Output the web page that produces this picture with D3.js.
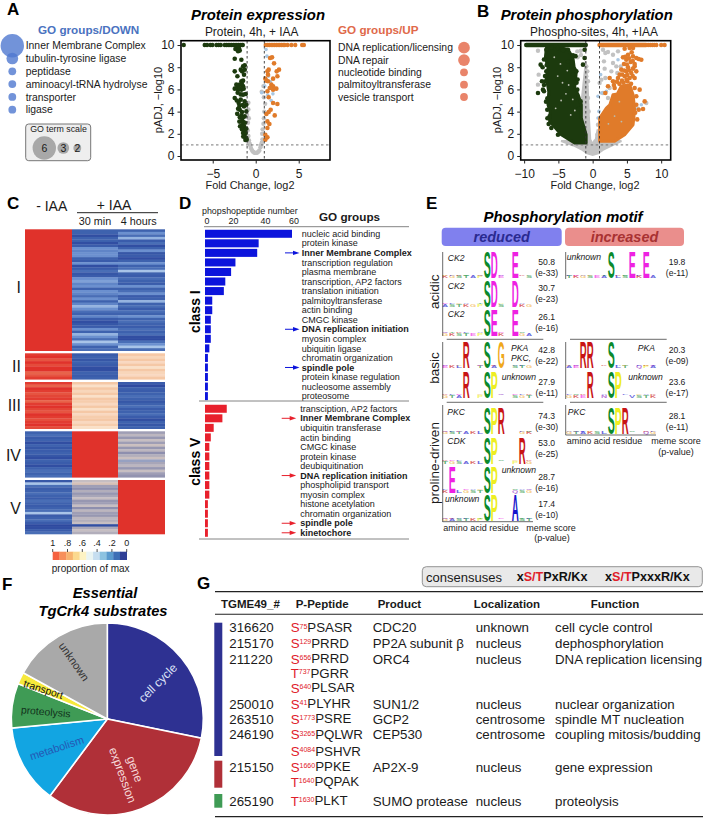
<!DOCTYPE html>
<html>
<head>
<meta charset="utf-8">
<script src="https://cdn.jsdelivr.net/npm/d3@7"></script>
<style>
  html, body { margin: 0; padding: 0; background: #fff; }
  svg { display: block; font-family: "Liberation Sans", Arial, sans-serif; }
</style>
</head>
<body>
<div id="chart"></div>
<script>
'use strict';

// Panel A: GO terms beside the volcano
const goDownLabels = ['Inner Membrane Complex', 'tubulin-tyrosine ligase', 'peptidase', 'aminoacyl-tRNA hydrolyse', 'transporter', 'ligase'];
const goDownTerms = [6, 3, 2, 2, 2, 2];
const goUpLabels = ['DNA replication/licensing', 'DNA repair', 'nucleotide binding', 'palmitoyltransferase', 'vesicle transport'];
const goUpTerms = [3, 3, 2, 2, 2];
const goScale = [6, 3, 2];

// Protein volcano as [log2 fold change, -log10 pAdj]
const protDownTop = [-8.37, -5.93, -5.66, -5.27, -5.04, -4.57, -4.3, -4.07, -3.6, -3.4, -3.2, -3, -2.8, -2.6, -2.4, -2.2, -2, -1.8, -1.6, -1.5];
const protUpTop = [1.16, 1.4, 1.6, 1.8, 2, 2.2, 2.4, 2.6, 2.8, 3, 3.2, 3.37, 3.7, 4.15, 4.6, 5.4, 5.6];
const protDown = [[-2.13, 9.8], [-1.86, 9.5], [-2.36, 9.64], [-2.44, 8.77], [-1.67, 8.68], [-1.47, 8.08], [-1.28, 8.17], [-1.74, 7.78], [-2.44, 7.63], [-1.59, 7.63], [-2.13, 7.18], [-1.36, 7.33], [-1.28, 7.78], [-1.67, 6.73], [-1.47, 6.79], [-1.86, 6.43], [-2.25, 6.43], [-1.47, 6.28], [-2.44, 6.07], [-2.05, 5.98], [-1.67, 5.98], [-1.4, 6.07], [-2.13, 6.19], [-2.44, 5.23], [-1.47, 5.53], [-1.16, 5.59], [-1.74, 5.08], [-1.98, 4.77], [-1.28, 4.92], [-1.09, 4.62], [-1.36, 4.47], [-1.86, 4.17], [-2.05, 4.26], [-1.59, 3.96], [-1.09, 4.02], [-1.67, 3.66], [-1.28, 3.57], [-1.82, 2.67], [-1.59, 2.76], [-1.36, 2.67], [-1.28, 2.37], [-1.09, 2.46], [-1.67, 3.12], [-1.47, 2.07], [-1.16, 2.07], [-1.28, 1.77], [-1.09, 1.62], [-1.05, 1.47],
  [-1.95, 9.7], [-2.05, 9.45], [-1.6, 6.45], [-1.9, 6.1], [-2.1, 5.7], [-1.75, 5.55], [-2.2, 5], [-1.9, 4.5], [-1.5, 4.6], [-2.15, 3.8], [-1.85, 3.5], [-1.55, 3.4], [-1.9, 3.1], [-1.45, 3.05], [-1.25, 3], [-1.6, 2.4], [-1.45, 1.75], [-1.2, 1.45]];
const protUp = [[1.67, 8.83], [1.9, 8.89], [2.13, 8.35], [1.51, 7.78], [1.36, 7.63], [2.71, 7.78], [2.44, 7.63], [1.43, 7.33], [2.52, 7.18], [2.02, 6.97], [1.12, 6.97], [1.43, 6.73], [1.24, 6.79], [1.82, 6.43], [2.02, 6.28], [2.4, 6.07], [1.63, 6.13], [1.36, 5.83], [2.02, 5.98], [1.51, 5.29], [2.52, 4.68], [2.02, 4.77], [1.74, 4.17], [1.51, 3.96], [1.24, 3.78], [2.21, 3.66], [1.36, 3.12], [1.59, 2.88], [1.36, 2.52], [1.12, 1.92], [1.36, 1.68], [1.12, 1.47]];
const protGrey = [[0, 0.28], [-0.15, 0.3], [0.15, 0.3], [-0.3, 0.38], [0.3, 0.38], [-0.42, 0.5], [0.42, 0.5], [-0.55, 0.7], [0.55, 0.8], [-0.62, 0.9], [0.62, 1], [-0.7, 1.1], [0.7, 1.2], [-0.78, 1.4], [0.78, 1.5], [-0.85, 1.8], [0.75, 2], [-0.92, 2.3], [0.8, 2.4], [-0.9, 3], [0.9, 2.9], [-1, 3.7], [0.95, 3.4], [-0.8, 3.4], [1, 4], [-0.85, 4.2], [1.1, 4.7], [-0.85, 4.8], [0.95, 5.3], [0.7, 5.8], [0.9, 6.3]];
const protBlue = [[1.2, 9.6], [1.3, 9], [1.5, 7.2], [1.7, 6.7], [1.4, 5.5], [1.8, 5], [2, 5.6], [1.05, 6.3], [0.7, 5.7]];

// Phospho volcano: the packed middle is an outline, the loose marks are points
const phosDownOutline = [[-6.76, 9.73], [-5, 9.8], [-3.6, 9.6], [-2.87, 8.83], [-2.7, 8], [-2.38, 7.63], [-2.63, 6.13], [-2.1, 5.5], [-1.65, 4.62], [-1.65, 3.42], [-0.95, 1.92], [-0.95, 1.17], [-2.63, 1.17], [-4.57, 1.92], [-6.28, 3.12], [-6.2, 4], [-6.52, 4.62], [-6.4, 5.8], [-6.76, 7.03], [-6.5, 8], [-6.9, 8.83]];
const phosUpOutline = [[1.02, 1.32], [1.02, 3.42], [2, 4.32], [2.5, 4.6], [2.97, 5.53], [3.6, 5.6], [4.18, 6.28], [5.4, 6.43], [5.9, 5.53], [6.13, 4.17], [5.9, 2.82], [4.67, 1.92], [3.2, 1.32]];
const phosGreyOutline = [[-4.6, 1.35], [-2.8, 0.95], [-1.5, 0.55], [-0.8, 0.25], [0, 0.1], [0.8, 0.25], [1.5, 0.55], [3, 1], [4.2, 1.35], [1.2, 1.4], [0.72, 2.4], [0.45, 1.5], [0, 1.1], [-0.35, 1.5], [-0.55, 3.5], [-0.7, 6], [-1, 8.5], [-1.6, 5], [-1.1, 1.4]];
const phosDownTop = [-9.7, -1];
const phosUpTop = [1, 7.8];
const phosUpTopLoose = [8.1, 8.4, 8.7, 9, 9.3, 10, 10.5];
const phosDown = [[-6.76, 9.58], [-6.03, 9.79], [-5.06, 9.73], [-4.33, 9.49], [-3.6, 9.58], [-2.87, 9.07], [-3.11, 8.47], [-3.6, 8.53], [-2.38, 7.63], [-2.87, 7.33], [-7.98, 5.68], [-7.4, 6.73], [-7.25, 5.98], [-7.59, 8.23], [-6.76, 7.63], [-6.91, 6.73], [-7.1, 5.83], [-6.42, 2.88], [-6.03, 2.52], [-6.62, 4.17], [-6.28, 3.57], [-5.06, 1.92], [-3.11, 8.08], [-1.17, 9.58], [-1.17, 8.83], [-1.41, 8.23], [-2.24, 5.98], [-2.53, 5.23], [-1.75, 4.92], [-2, 4.26], [-7.3, 8], [-7.1, 8.7], [-6.95, 7.2], [-7.1, 6.4], [-6.8, 4.9], [-2.5, 9], [-2.2, 6.9], [-2.35, 6.6], [-6.7, 8.2], [-6.6, 5.2], [-6.6, 3.4]];
const phosUp = [[5.89, 9.73], [5.4, 9.73], [4.67, 9.67], [4.43, 8.89], [5.16, 9.13], [5.89, 8.98], [6.37, 8.83], [4.91, 8.68], [5.55, 8.47], [6.13, 8.29], [7.1, 8.68], [6.72, 8.74], [4.57, 8.29], [5.16, 7.99], [5.89, 7.87], [4.18, 7.78], [4.91, 7.63], [5.64, 7.48], [3.94, 7.33], [4.67, 7.18], [5.4, 7.03], [6.37, 7.63], [6.13, 8.08], [6.13, 7.03], [3.7, 7.03], [4.28, 6.79], [5.06, 6.73], [2.48, 7.03], [2.97, 6.73], [2.24, 6.28], [3.21, 6.13], [1.85, 5.68], [6.13, 6.13], [6.86, 5.98], [6.37, 5.38], [7.59, 4.92], [6.37, 4.62], [6.72, 4.17], [7.35, 4.23], [6.2, 3.9], [5.6, 6.5], [4.5, 6.6], [6.5, 3.3],
  [5.7, 9.35], [5.3, 8.8], [4.75, 8.95], [5.85, 8.55], [5, 8.25], [5.35, 7.7], [4.6, 7.7], [4.3, 7.35], [5.05, 7.3], [5.85, 7.2], [3.55, 6.7], [3.9, 6.5], [3.1, 6.4], [4.95, 6.9]];
const phosGrey = [[-7.98, 9.49], [-7.88, 7.33], [-7.98, 6.43], [-2.24, 9.43], [-1.75, 9.49], [-1.7, 9.1], [-2.2, 8.9], [-0.92, 8.08], [-0.78, 7.63], [-0.92, 7.18], [-0.68, 6.73], [-0.92, 6.28], [-1.17, 5.53], [-0.68, 5.23], [-0.83, 4.62], [-0.58, 4.02], [-1.41, 4.62], [1.51, 9.58], [1.85, 9.28], [2.24, 9.37], [2.97, 9.13], [3.7, 9.43], [1.65, 8.53], [2.97, 8.38], [3.45, 8.08], [4.09, 8.08], [2.73, 7.63], [3.6, 7.48], [1.75, 7.87], [1.27, 6.88], [1.02, 6.58], [1.85, 7.03], [1.51, 5.68], [2.48, 6.13], [3.21, 4.17], [2.24, 5.23], [1.02, 3.42], [0.78, 2.82], [0.68, 1.92], [0.39, 1.32], [7.83, 4.77], [6.62, 4.26], [5.89, 5.23]];
const phosBlue = [[1.17, 7.33], [1.27, 5.68], [2, 5.83], [0.78, 5.38], [0.92, 4.02], [0.78, 3.42], [5.89, 4.47], [7.1, 4.62], [3.7, 8.68]];
const phosGaps = [[-5.6, 8.9], [-4.7, 8.3], [-3.7, 7.7], [-5.1, 7.2], [-4.4, 6.6], [-3.5, 6.4], [-3.9, 5.6], [-2.9, 5.1], [-4.6, 5], [-2.6, 4.1], [-3.2, 3.7], [-5.4, 4.3], [3.2, 3.6], [3.9, 4.9], [2.3, 2.9], [4.2, 3.1]];

// Panel C heatmap, one array per cluster and condition (proportion of max)
const clusterNames = ['I', 'II', 'III', 'IV', 'V'];
const heatI0 = [1];
const heatI30 = [.12, .12, .05, .12, .12, .05, .1, .2, .18, .2, .2, .12, .1, .2, .05, .1, .14, .08, .1, .2, .22, .18, .2, .12, .2, .18, .14, .2, .12, .18, .24, .2, .14, .12, .18, .1, .05, .08, .1, .2, .12, .24, .2, .14, .26, .2, .12, .14];
const heatI4h = [.12, .2, .14, .24, .1, .14, .05, .12, .2, .08, .1, .05, .12, .2, .12, .14, .26, .12, .1, .14, .12, .1, .2, .12, .14, .2, .1, .12, .24, .12, .14, .1, .14, .12, .2, .12, .14, .12, .1, .14, .12, .14, .05, .04, .14, .2, .26, .14];
const heatII0 = [.98, 1, .93, 1, .95, 1, 1, .9, .93, .98];
const heatII30 = [.1, .12, .08, .12, .1, .05, .05, .12, .1, .12];
const heatII4h = [.55, .58, .55, .62, .55, .6, .55, .58, .62, .55];
const heatIII0 = [.98, .9, 1, .98, .93, .96, .98, .9, .98, 1, .96, .93, 1, .98, .94, .98, 1, .95];
const heatIII30 = [.55, .6, .55, .58, .55, .6, .55, .56, .62, .55, .6, .55, .62, .56, .55, .62, .56, .6];
const heatIII4h = [.1, .04, .12, .1, .12, .14, .12, .08, .12, .14, .1, .12, .14, .1, .05, .12, .08, .12];
const heatIV0 = [.12, .14, .1, .12, .05, .12, .08, .1, .12, .08, .05, .12, .1, .05, .12, .14, .12, .14];
const heatIV30 = [1];
const heatIV4h = [.36, .42, .34, .44, .36, .45, .34, .42, .32, .4, .45, .3, .38, .42, .34, .44, .36, .33];
const heatV0 = [.08, .26, .14, .1, .12, .14, .12, .1, .14, .12, .1, .12, .14, .26, .1, .12, .14, .1, .03, .05, .1, .14];
const heatV30 = [.44, .48, .36, .32, .4, .34, .38, .44, .34, .36, .44, .32, .42, .36, .34, .42, .4, .44, .05, .38, .44, .4];
const heatV4h = [1];
const legendStops = [1, .9, .8, .7, .6, .5, .4, .3, .2, .1, 0];
const legendTicks = [1, .8, .6, .4, .2, 0];
const legendTickText = ['1', '.8', '.6', '.4', '.2', '0'];

// Panel D
const classOneGroups = ['nucleic acid binding', 'protein kinase', 'Inner Membrane Complex', 'transcription regulation', 'plasma membrane', 'transcription, AP2 factors', 'translation initiation', 'palmitoyltransferase', 'actin binding', 'CMGC kinase', 'DNA replication initiation', 'myosin complex', 'ubiquitin ligase', 'chromatin organization', 'spindle pole', 'protein kinase regulation', 'nucleosome assembly', 'proteosome'];
const classOneCounts = [60, 37, 36, 21, 18, 14, 13, 5, 5, 4, 4, 4, 3, 2, 2, 2, 2, 2];
const classFiveGroups = ['transciption, AP2 factors', 'Inner Membrane Complex', 'ubiquitin transferase', 'actin binding', 'CMGC kinase', 'protein kinase', 'deubiquitination', 'DNA replication initiation', 'phospholipid transport', 'myosin complex', 'histone acetylation', 'chromatin organization', 'spindle pole', 'kinetochore'];
const classFiveCounts = [15, 12, 6, 4, 3, 3, 3, 3, 3, 3, 2, 2, 2, 2];
const highlightedGroups = ['Inner Membrane Complex', 'DNA replication initiation', 'spindle pole', 'kinetochore'];
const countTicks = [0, 20, 40, 60];

// Panel E: main residues per logo (13 positions), then two rows of small residues
const motifMain = ['......SD..E..', '......SD..D..', '......SE..E..', '......S..E.E.', '...R..S.G....', '...R..SP.....', '..RR..S......', '...R..SP.....', '......SPR....', '......SP...R.', '.E....SP.....', '......SP..A..', '......SPR....'];
const motifLowA = ['KGSTAPKSE.P.SL', 'ASTKGPETS.TKG', 'GKSTEPSLK.QGA', 'TKGSEAPLS.K.A', 'EKLS.TVAP.STG', 'GTAS.PKL..SGT', 'AEKG..SLT.QPA', 'GKEA.NQ..VSTK', 'GSTAKLSP...GK', 'TGSAKLQ...PAG', 'K.LGSTA...QSG', 'GASTKPEL..PST', 'GTAKSLPN...QG'];
const motifLowB = ['PLKS.QGTA.EK.', 'ELGA.TSKP.QA.', 'QTKL.AGLE.KS.', 'LEAG.TQKS.LQ.', 'A.GK.ESKT.AL.', 'KLE..GTAQ.ELK', 'GQT..KEAG.LKQ', 'LSK..ATEL.GAK', 'QLE...KGT..LS', 'KEL...TQS.GLK', 'LK.EAGK...SAQ', 'QKAL.TSGE.QTL', 'AQLG...TKS.KL'];
const motifKinase = ['CK2', 'CK2', 'CK2', 'unknown', 'PKA', 'unknown', 'PKA', 'unknown', 'PKC', 'CDK', 'unknown', 'unknown', 'PKC'];
const motifScore = ['50.8', '30.7', '26.1', '19.8', '42.8', '27.9', '20.3', '23.6', '74.3', '53.0', '28.7', '17.4', '28.1'];
const motifPval = ['(e-33)', '(e-23)', '(e-16)', '(e-11)', '(e-22)', '(e-11)', '(e-09)', '(e-17)', '(e-30)', '(e-25)', '(e-16)', '(e-10)', '(e-11)'];

// Panel F
const pieNames = ['cell cycle', 'gene expression', 'metabolism', 'proteolysis', 'transport', 'unknown'];
const pieValues = [28.2, 32, 13.3, 7.5, 2, 17];
const pieColors = ['#2e3192', '#b03038', '#12a5e2', '#3f9b55', '#f7e93c', '#a9a9a9'];

// Panel G
const tableIds = ['316620', '215170', '211220', '', '', '250010', '263510', '246190', '', '215150', '', '265190'];
const peptideSite = ['S', 'S', 'S', 'T', 'S', 'S', 'S', 'S', 'S', 'S', 'T', 'T'];
const peptideNumber = ['75', '129', '656', '737', '640', '41', '1773', '3265', '4084', '1660', '1640', '1630'];
const peptideRest = ['PSASR', 'PRRD', 'PRRD', 'PGRR', 'PLSAR', 'PLYHR', 'PSRE', 'PQLWR', 'PSHVR', 'PPKE', 'PQPAK', 'PLKT'];
const tableProducts = ['CDC20', 'PP2A subunit β', 'ORC4', '', '', 'SUN1/2', 'GCP2', 'CEP530', '', 'AP2X-9', '', 'SUMO protease'];
const tableLocal = ['unknown', 'nucleus', 'nucleus', '', '', 'nucleus', 'centrosome', 'centrosome', '', 'nucleus', '', 'nucleus'];
const tableFunctions = ['cell cycle control', 'dephosphorylation', 'DNA replication licensing', '', '', 'nuclear organization', 'spindle MT nucleation', 'coupling mitosis/budding', '', 'gene expression', '', 'proteolysis'];
const tableLines = [0, 1, 2, 2.9, 3.85, 4.85, 5.8, 6.8, 7.85, 8.85, 9.8, 11];

const svg = d3.select('#chart').append('svg').attr('width', 705).attr('height', 820);

// Shared text helper, y is the vertical middle of the line
function label(parent, x, y, str, o) {
  o = o || {};
  const t = parent.append('text')
    .attr('x', x).attr('y', y).attr('dy', '.35em')
    .attr('font-size', o.size || 10)
    .attr('fill', o.fill || '#1a1a1a')
    .attr('text-anchor', o.anchor || 'start')
    .text(str);
  if (o.bold) t.attr('font-weight', 'bold');
  if (o.italic) t.attr('font-style', 'italic');
  if (o.rotate !== undefined) t.attr('transform', `rotate(${o.rotate} ${x} ${y})`);
  return t;
}

const panelLetters = [['A', 7, 9], ['B', 477, 11], ['C', 7, 203], ['D', 179, 203], ['E', 426, 203], ['F', 2, 584], ['G', 197, 583]];
panelLetters.forEach(d => label(svg, d[1], d[2], d[0], { size: 17, bold: true, fill: '#000' }));

// ---- Panel A legends
label(svg, 38, 30, 'GO groups/DOWN', { size: 11.7, bold: true, fill: '#4a72c0' });
const downY = d3.scalePoint().domain(goDownLabels).range([45.7, 109.7]);
const termR = d3.scaleLinear().domain([0, 6]).range([0, 11.7]);
goDownLabels.forEach((name, i) => {
  svg.append('circle').attr('cx', 12.3).attr('cy', downY(name)).attr('r', termR(goDownTerms[i]))
    .attr('fill', '#4f78d0').attr('fill-opacity', .8);
  label(svg, 25.7, downY(name), name, { size: 10.4 });
});
svg.append('rect').attr('x', 25.7).attr('y', 124).attr('width', 65).attr('height', 36.7).attr('rx', 3)
  .attr('fill', '#eeeeee').attr('stroke', '#777');
label(svg, 58.5, 129, 'GO term scale', { size: 8.8, anchor: 'middle' });
goScale.forEach((v, i) => {
  svg.append('circle').attr('cx', [44.3, 63.3, 77.3][i]).attr('cy', 148).attr('r', termR(v)).attr('fill', '#a8a8a8');
  label(svg, [44.3, 63.3, 77.3][i], 148.5, v, { size: 10.5, anchor: 'middle' });
});

label(svg, 338, 30, 'GO groups/UP', { size: 11.7, bold: true, fill: '#e0694a' });
const upY = d3.scalePoint().domain(goUpLabels).range([47.7, 97]);
goUpLabels.forEach((name, i) => {
  svg.append('circle').attr('cx', 464).attr('cy', upY(name)).attr('r', termR(goUpTerms[i])).attr('fill', '#e9846a');
  label(svg, 338, upY(name), name, { size: 10.4 });
});

// ---- Volcano panels
function volcano(o) {
  const g = svg.append('g');
  const x = d3.scaleLinear().domain(o.xDomain).range(o.xRange);
  const y = d3.scaleLinear().domain([-0.36, 10.39]).range([160, 40.7]);
  const outline = d3.line().x(d => x(d[0])).y(d => y(d[1])).curve(d3.curveLinearClosed);
  const dots = (data, fill, r) => g.append('g').selectAll('circle').data(data).join('circle')
    .attr('cx', d => x(d[0])).attr('cy', d => y(d[1])).attr('r', r).attr('fill', fill);

  if (o.greyOutline) g.append('path').attr('d', outline(o.greyOutline)).attr('fill', '#c2c2c2').attr('stroke', '#c2c2c2').attr('stroke-width', 2);
  dots(o.grey, '#c2c2c2', 2.2);
  dots(o.blue, '#a9c7e2', 1.8);
  if (o.downOutline) g.append('path').attr('d', outline(o.downOutline)).attr('fill', '#1c3a0e').attr('stroke', '#1c3a0e').attr('stroke-width', 3).attr('stroke-linejoin', 'round');
  if (o.upOutline) g.append('path').attr('d', outline(o.upOutline)).attr('fill', '#e07b2a').attr('stroke', '#e07b2a').attr('stroke-width', 3).attr('stroke-linejoin', 'round');
  if (o.downTopRun) g.append('line').attr('x1', x(o.downTopRun[0])).attr('x2', x(o.downTopRun[1])).attr('y1', y(10)).attr('y2', y(10))
    .attr('stroke', '#1c3a0e').attr('stroke-width', 4.4).attr('stroke-linecap', 'round');
  if (o.upTopRun) g.append('line').attr('x1', x(o.upTopRun[0])).attr('x2', x(o.upTopRun[1])).attr('y1', y(10)).attr('y2', y(10))
    .attr('stroke', '#e07b2a').attr('stroke-width', 4.4).attr('stroke-linecap', 'round');
  dots(o.downTop.map(v => [v, 10]), '#1c3a0e', 2.2);
  dots(o.upTop.map(v => [v, 10]), '#e07b2a', 2.2);
  dots(o.down, '#1c3a0e', 2.3);
  dots(o.up, '#e07b2a', 2.3);
  if (o.gaps) dots(o.gaps, '#b9bdb0', .9);

  const dash = (x1, x2, y1, y2, col) => g.append('line').attr('x1', x1).attr('x2', x2).attr('y1', y1).attr('y2', y2)
    .attr('stroke', col).attr('stroke-width', .9).attr('stroke-dasharray', '2.5,2.5');
  dash(x(-1), x(-1), 41, 160, '#333');
  dash(x(1), x(1), 41, 160, '#333');
  dash(o.xRange[0], o.xRange[1], y(1), y(1), '#666');

  g.append('rect').attr('x', o.xRange[0]).attr('y', 40.7).attr('width', o.xRange[1] - o.xRange[0]).attr('height', 119.3)
    .attr('fill', 'none').attr('stroke', '#000').attr('stroke-width', 1.6);

  const xAxis = g.append('g').attr('transform', 'translate(0,160)').call(d3.axisBottom(x).tickValues(o.xTicks).tickSize(3.5).tickFormat(d => String(d).replace('-', '−')));
  const yAxis = g.append('g').attr('transform', `translate(${o.xRange[0]},0)`).call(d3.axisLeft(y).tickValues([0, 2, 4, 6, 8, 10]).tickSize(3.5));
  [xAxis, yAxis].forEach(a => {
    a.select('.domain').remove();
    a.selectAll('text').attr('font-family', null).attr('font-size', 12).attr('fill', '#1a1a1a');
    a.selectAll('line').attr('stroke', '#222');
  });
  xAxis.selectAll('text').attr('dy', '.95em');

  label(g, o.titleX, 14.7, o.title, { size: 14.9, bold: true, italic: true, anchor: 'middle', fill: '#000' });
  label(g, o.subX, 32, o.sub, { size: 11.9, anchor: 'middle' });
  label(g, o.xLabelX, 185, 'Fold Change, log2', { size: 10.9, anchor: 'middle' });
  label(g, o.yLabelX, 100, 'pADJ, −log10', { size: 11, anchor: 'middle', rotate: -90 });
}

volcano({
  xDomain: [-8.69, 8.64], xRange: [181, 330], xTicks: [-5, 0, 5],
  grey: protGrey, blue: protBlue, down: protDown, up: protUp, downTop: protDownTop, upTop: protUpTop,
  title: 'Protein expression', titleX: 258, sub: 'Protein, 4h, + IAA', subX: 251.7, xLabelX: 250, yLabelX: 158
});
volcano({
  xDomain: [-10.5, 11.39], xRange: [520.7, 670.7], xTicks: [-10, -5, 0, 5, 10],
  greyOutline: phosGreyOutline, downOutline: phosDownOutline, upOutline: phosUpOutline,
  downTopRun: phosDownTop, upTopRun: phosUpTop,
  grey: phosGrey, blue: phosBlue, down: phosDown, up: phosUp, downTop: [], upTop: phosUpTopLoose, gaps: phosGaps,
  title: 'Protein phosphorylation', titleX: 586.7, sub: 'Phospho-sites, 4h, +IAA', subX: 594, xLabelX: 595, yLabelX: 496.7
});

// ---- Panel C
const heatColor = d3.scaleLinear()
  .domain([0, .12, .2, .26, .32, .38, .44, .55, .6, .9, 1])
  .range(['#27409a', '#3e62ae', '#6b90cf', '#a8c4e8', '#8e8fae', '#a8a6b8', '#c6bec2', '#f5c8a6', '#fae0c8', '#e8634a', '#e0322b']);
const legendColor = d3.scaleLinear().domain([0, .1, .2, .3, .4, .5, .6, .7, .8, .9, 1])
  .range(['#2f3f96', '#3d6fb5', '#5a9bce', '#8cc3e1', '#c6def0', '#e9f4f3', '#fdf3c4', '#fbd98f', '#f7b36f', '#f78f5a', '#f5613f']);
const heatColumns = [[25, 72], [72, 118], [118, 165]];
const clusterExtent = [[229.3, 350.7], [353.3, 379.3], [382, 428.7], [431.3, 477.3], [480, 534]];
const clusterLabelY = [287, 366.7, 405, 455.7, 508];
const heatData = [[heatI0, heatI30, heatI4h], [heatII0, heatII30, heatII4h], [heatIII0, heatIII30, heatIII4h], [heatIV0, heatIV30, heatIV4h], [heatV0, heatV30, heatV4h]];
heatData.forEach((columns, c) => {
  columns.forEach((values, k) => {
    const band = d3.scaleBand().domain(d3.range(values.length)).range(clusterExtent[c]);
    svg.append('g').selectAll('rect').data(values).join('rect')
      .attr('x', heatColumns[k][0]).attr('width', heatColumns[k][1] - heatColumns[k][0])
      .attr('y', (d, i) => band(i)).attr('height', band.bandwidth() + .3)
      .attr('fill', d => heatColor(d));
  });
  label(svg, 21, clusterLabelY[c], clusterNames[c], { size: 16, anchor: 'end' });
});
label(svg, 51.7, 206, '- IAA', { size: 14, anchor: 'middle' });
label(svg, 114, 205, '+ IAA', { size: 14, anchor: 'middle' });
svg.append('line').attr('x1', 77).attr('x2', 158).attr('y1', 212.7).attr('y2', 212.7).attr('stroke', '#222').attr('stroke-width', 1);
label(svg, 95, 221, '30 min', { size: 10.8, anchor: 'middle' });
label(svg, 138.7, 221, '4 hours', { size: 10.8, anchor: 'middle' });

const legendX = d3.scaleLinear().domain([1, 0]).range([52.7, 126.7]);
const legendBand = d3.scaleBand().domain(legendStops).range([52.7, 126.7]);
svg.append('g').selectAll('rect').data(legendStops).join('rect')
  .attr('x', d => legendBand(d)).attr('y', 551.7).attr('width', legendBand.bandwidth() + .3).attr('height', 8.3)
  .attr('fill', d => legendColor(d));
legendTicks.forEach((t, i) => {
  svg.append('line').attr('x1', legendX(t)).attr('x2', legendX(t)).attr('y1', 549).attr('y2', 552).attr('stroke', '#222').attr('stroke-width', .8);
  label(svg, legendX(t), 542.7, legendTickText[i], { size: 9, anchor: 'middle' });
});
label(svg, 90.7, 568, 'proportion of max', { size: 10, anchor: 'middle' });

// ---- Panel D
const countX = d3.scaleLinear().domain([0, 60]).range([205, 292]);
function classBars(groups, counts, top, step, color, textX, arrowX) {
  const y = d3.scaleBand().domain(groups).range([top, top + step * groups.length]).paddingInner(.16).paddingOuter(.08);
  const g = svg.append('g');
  g.selectAll('rect').data(groups).join('rect')
    .attr('x', countX(0)).attr('y', d => y(d))
    .attr('width', (d, i) => countX(counts[i]) - countX(0)).attr('height', y.bandwidth())
    .attr('fill', color);
  groups.forEach(name => {
    const cy = y(name) + y.bandwidth() / 2;
    const hot = highlightedGroups.includes(name);
    label(g, textX, cy, name, { size: 9, bold: hot });
    if (hot) {
      g.append('line').attr('x1', arrowX).attr('x2', arrowX + 9).attr('y1', cy).attr('y2', cy).attr('stroke', color).attr('stroke-width', 1);
      g.append('path').attr('d', `M${arrowX + 8},${cy - 2.2}L${arrowX + 14.5},${cy}L${arrowX + 8},${cy + 2.2}Z`).attr('fill', color);
    }
  });
}
classBars(classOneGroups, classOneCounts, 229, 9.55, '#0c14dc', 301.7, 285);
classBars(classFiveGroups, classFiveCounts, 404, 9.54, '#e8202c', 300.3, 281.7);
const dividers = [[204, 226.7], [199, 401], [199, 539]];
dividers.forEach(d => svg.append('line').attr('x1', d[0]).attr('x2', 409).attr('y1', d[1]).attr('y2', d[1]).attr('stroke', '#777').attr('stroke-width', .9));
label(svg, 202, 210.7, 'phopshopeptide number', { size: 8.9 });
const tickLabelX = [207, 233.5, 265.5, 294];
countTicks.forEach((t, i) => label(svg, tickLabelX[i], 221, t, { size: 8.9, anchor: 'middle' }));
label(svg, 319, 217, 'GO groups', { size: 11.7, bold: true });
label(svg, 195, 311.7, 'class I', { size: 14, bold: true, anchor: 'middle', rotate: -90, fill: '#000' });
label(svg, 195, 461.7, 'class V', { size: 14, bold: true, anchor: 'middle', rotate: -90, fill: '#000' });

// ---- Panel E
const residueColor = r => {
  if ('DE'.includes(r)) return '#ee22e2';
  if ('ST'.includes(r)) return '#0a8a2c';
  if ('RKH'.includes(r)) return '#c81414';
  if (r === 'G') return '#efa81c';
  if (r === 'P') return '#eeee22';
  if ('NQ'.includes(r)) return '#8a2ac0';
  return '#1414cc';
};
label(svg, 563, 217, 'Phosphorylation motif', { size: 15, bold: true, italic: true, anchor: 'middle', fill: '#000' });
svg.append('rect').attr('x', 441.7).attr('y', 227.7).attr('width', 120).attr('height', 18.3).attr('rx', 4).attr('fill', '#8080ee');
label(svg, 501.7, 237, 'reduced', { size: 14.5, bold: true, italic: true, anchor: 'middle', fill: '#2a2a90' });
svg.append('rect').attr('x', 565).attr('y', 227.7).attr('width', 119).attr('height', 18.3).attr('rx', 4).attr('fill', '#ea8e8c');
label(svg, 624.5, 237, 'increased', { size: 14.5, bold: true, italic: true, anchor: 'middle', fill: '#a83232' });

// layout of the logos, order follows the motif arrays
const logoLeft = [true, true, true, false, true, true, false, false, true, true, true, true, false];
const logoBase = [278.3, 306.7, 335.7, 278.3, 368.3, 397.7, 368.3, 397.7, 434.3, 463.7, 492.7, 521, 434.3];
const kinaseX = [447.7, 447.7, 447.7, 566.7, 511, 501.7, 637.7, 628.3, 447.3, 447.3, 501.7, 445, 567.7];
const kinaseY = [258, 285.7, 314.3, 257, 347.7, 377, 347.7, 377, 412, 440.7, 470, 499, 412];
const scoreY = [261.7, 287.7, 316.7, 261.7, 349.7, 381.7, 349.7, 381.7, 415.7, 443.3, 477.3, 504, 415.7];
const bitY = d3.scaleLinear().domain([0, 4.3]).range([0, 26]);

function logoGlyph(g, residue, x, base, w, h, alpha) {
  // stretch one bold capital to fill its slot
  const t = g.append('text').attr('font-size', 40).attr('font-weight', 'bold').attr('fill', residueColor(residue)).text(residue);
  if (alpha) t.attr('fill-opacity', alpha);
  const len = t.node().getComputedTextLength();
  t.attr('transform', `translate(${x},${base}) scale(${w / len},${h / (40 * .716)})`);
}

motifMain.forEach((row, i) => {
  const x0 = logoLeft[i] ? 441.7 : 565.7;
  const cols = d3.scaleBand().domain(d3.range(13)).range([x0, x0 + 91]);
  const g = svg.append('g');
  for (let k = 0; k < 13; k++) {
    if (row[k] !== '.') {
      logoGlyph(g, row[k], cols(k), logoBase[i], cols.bandwidth(), bitY(4.3));
    } else {
      const a = motifLowA[i][k], b = motifLowB[i][k];
      if (a && a !== '.') logoGlyph(g, a, cols(k) + .4, logoBase[i], cols.bandwidth() - .8, bitY(.34), .65);
      if (b && b !== '.') logoGlyph(g, b, cols(k) + .4, logoBase[i] - bitY(.38), cols.bandwidth() - .8, bitY(.3), .55);
    }
  }
  label(svg, kinaseX[i], kinaseY[i], motifKinase[i], { size: 8.6, italic: true });
  const sx = logoLeft[i] ? 546.7 : 677;
  label(svg, sx, scoreY[i], motifScore[i], { size: 8.6, anchor: 'middle' });
  label(svg, sx, scoreY[i] + 10.8, motifPval[i], { size: 8.6, anchor: 'middle' });
});
label(svg, 511, 358.3, 'PKC,', { size: 8.6, italic: true });

const logoRules = [[442.7, 442.7, 252, 336], [565.7, 565.7, 252, 279], [442.7, 442.7, 342, 399], [565.7, 565.7, 342, 399], [442.7, 442.7, 405, 522], [565.7, 565.7, 405, 435], [446.7, 543.3, 339.3, 339.3], [570, 666.7, 339.3, 339.3], [446.7, 543.3, 402.3, 402.3], [570, 666.7, 402.3, 402.3], [442.7, 533, 521.7, 521.7], [565.7, 656, 435, 435]];
logoRules.forEach(d => svg.append('line').attr('x1', d[0]).attr('x2', d[1]).attr('y1', d[2]).attr('y2', d[3]).attr('stroke', '#444').attr('stroke-width', .8));
label(svg, 434, 291.7, 'acidic', { size: 13.5, anchor: 'middle', rotate: -90 });
label(svg, 434, 368, 'basic', { size: 13.5, anchor: 'middle', rotate: -90 });
label(svg, 434, 463, 'proline-driven', { size: 13.5, anchor: 'middle', rotate: -90 });
label(svg, 443.3, 527.7, 'amino acid residue', { size: 9 });
label(svg, 551, 527.7, 'meme score', { size: 9, anchor: 'middle' });
label(svg, 552, 538.3, '(p-value)', { size: 9, anchor: 'middle' });
label(svg, 566.7, 441, 'amino acid residue', { size: 9 });
label(svg, 676, 441, 'meme score', { size: 9, anchor: 'middle' });
label(svg, 676, 451.7, '(p-value)', { size: 9, anchor: 'middle' });

// ---- Panel F
label(svg, 105, 592.7, 'Essential', { size: 14.7, bold: true, italic: true, anchor: 'middle', fill: '#000' });
label(svg, 103, 610.7, 'TgCrk4 substrates', { size: 14.7, bold: true, italic: true, anchor: 'middle', fill: '#000' });
const pie = d3.pie().sort(null)(pieValues);
const pieArc = d3.arc().innerRadius(0).outerRadius(96);
const pieG = svg.append('g').attr('transform', 'translate(107.3,719)');
pieG.selectAll('path').data(pie).join('path')
  .attr('d', pieArc).attr('fill', (d, i) => pieColors[i])
  .attr('stroke', '#fff').attr('stroke-width', 1.6);
label(svg, 157.7, 682.7, 'cell cycle', { size: 12, anchor: 'middle', rotate: -45, fill: '#dfe4f8' });
label(svg, 135, 769, 'gene', { size: 12, anchor: 'middle', rotate: 70, fill: '#f6d9d9' });
label(svg, 122.7, 775, 'expression', { size: 12, anchor: 'middle', rotate: 70, fill: '#f6d9d9' });
label(svg, 56.7, 748, 'metabolism', { size: 11, anchor: 'middle', rotate: -18, fill: '#2458b4' });
label(svg, 45.7, 711.7, 'proteolysis', { size: 10.4, anchor: 'middle', rotate: 5, fill: '#12321c' });
label(svg, 43.3, 689.3, 'transport', { size: 10.4, anchor: 'middle', rotate: 18, fill: '#111' });
label(svg, 74, 661.7, 'unknown', { size: 11, anchor: 'middle', rotate: 55, fill: '#333' });

// ---- Panel G
svg.append('rect').attr('x', 422.3).attr('y', 566.7).attr('width', 280).attr('height', 20).attr('rx', 4)
  .attr('fill', '#e9e9e9').attr('stroke', '#888').attr('stroke-width', .9);
label(svg, 426, 577.7, 'consensuses', { size: 13 });
function consensus(x, after) {
  const t = label(svg, x, 577, 'x', { size: 12.6, bold: true, fill: '#111' });
  t.append('tspan').attr('fill', '#e0202a').text('S/T');
  t.append('tspan').text(after);
}
consensus(516.7, 'PxR/Kx');
consensus(605, 'PxxxR/Kx');
[[591.7, 1.3], [614.3, 1.1], [816.7, 1.3]].forEach(d => svg.append('line')
  .attr('x1', 215).attr('x2', 703).attr('y1', d[0]).attr('y2', d[0]).attr('stroke', '#222').attr('stroke-width', d[1]));
const headers = [['TGME49_#', 221], ['P-Peptide', 295.7], ['Product', 377.7], ['Localization', 473.7], ['Function', 590.7]];
headers.forEach(d => label(svg, d[1], 604, d[0], { size: 11.5, bold: true }));

const rowY = d3.scaleLinear().domain([0, 11]).range([627.7, 801]);
const tableSize = 13.3;
const colourBars = [[622.7, 756, pieColors[0]], [760.7, 787.7, pieColors[1]], [794, 807.7, pieColors[3]]];
colourBars.forEach(d => svg.append('rect').attr('x', 214.3).attr('y', d[0]).attr('width', 8).attr('height', d[1] - d[0]).attr('fill', d[2]));
tableLines.forEach((line, i) => {
  const y = rowY(line);
  if (tableIds[i]) label(svg, 229.3, y, tableIds[i], { size: tableSize });
  const t = label(svg, 290.7, y, peptideSite[i], { size: tableSize, fill: '#e0202a' });
  t.append('tspan').attr('font-size', 7).attr('dy', '-.55em').attr('fill', '#e0202a').text(peptideNumber[i]);
  t.append('tspan').attr('dy', '.25em').attr('fill', '#1a1a1a').text(peptideRest[i]);
  if (tableProducts[i]) label(svg, 372.7, y, tableProducts[i], { size: tableSize });
  if (tableLocal[i]) label(svg, 475.7, y, tableLocal[i], { size: tableSize });
  if (tableFunctions[i]) label(svg, 555, y, tableFunctions[i], { size: tableSize });
});
</script>
</body>
</html>
